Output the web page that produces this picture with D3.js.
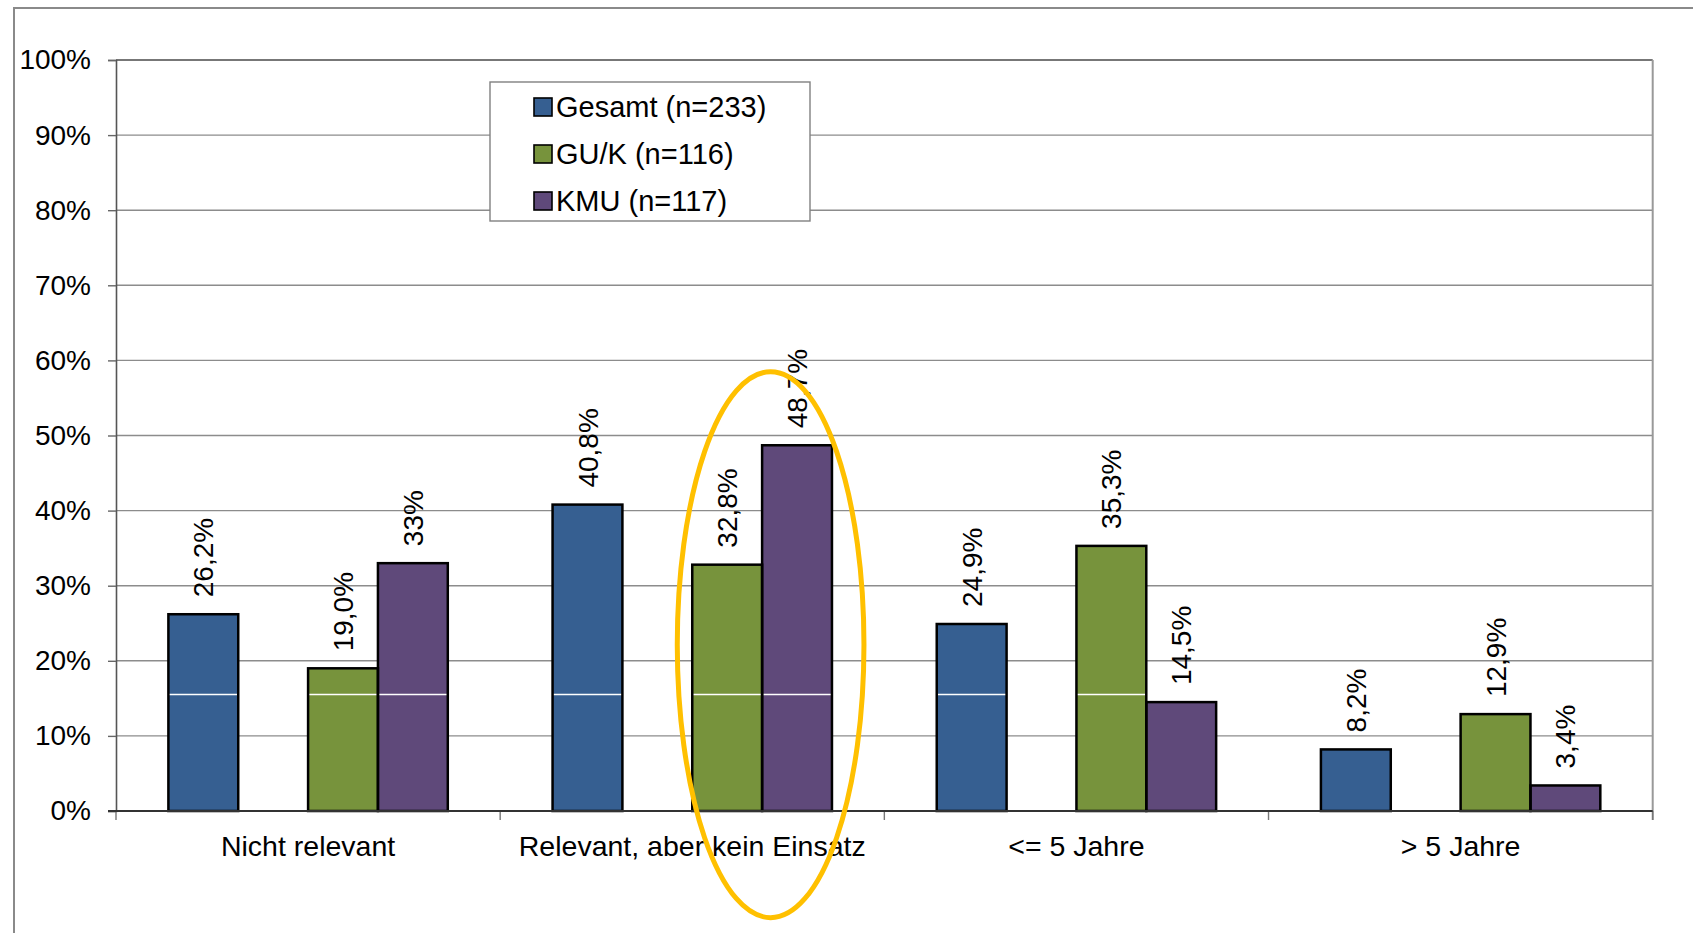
<!DOCTYPE html>
<html>
<head>
<meta charset="utf-8">
<script src="https://cdn.jsdelivr.net/npm/d3@7"></script>
<style>
  html, body { margin: 0; padding: 0; background: #fff; }
  svg { display: block; font-family: "Liberation Sans", Arial, sans-serif; }
</style>
</head>
<body>
<svg id="chart" width="1693" height="933"></svg>
<script>
// Categories on the x axis
const categories = ["Nicht relevant", "Relevant, aber kein Einsatz", "<= 5 Jahre", "> 5 Jahre"];

// Series names (legend) and colours
const seriesNames = ["Gesamt (n=233)", "GU/K (n=116)", "KMU (n=117)"];
const seriesColors = ["#365F91", "#77933C", "#5F497A"];

// Values in percent, one array per series
const gesamtValues = [26.2, 40.8, 24.9, 8.2];
const gukValues    = [19.0, 32.8, 35.3, 12.9];
const kmuValues    = [33, 48.7, 14.5, 3.4];

// Value labels as printed above the bars
const gesamtLabels = ["26,2%", "40,8%", "24,9%", "8,2%"];
const gukLabels    = ["19,0%", "32,8%", "35,3%", "12,9%"];
const kmuLabels    = ["33%", "48,7%", "14,5%", "3,4%"];

// Y axis ticks
const yTicks = [0, 10, 20, 30, 40, 50, 60, 70, 80, 90, 100];
const yTickLabels = ["0%", "10%", "20%", "30%", "40%", "50%", "60%", "70%", "80%", "90%", "100%"];

// Each group has four slots; the second slot stays empty
const slots = ["Gesamt", "leer", "GU/K", "KMU"];
const seriesSlots = ["Gesamt", "GU/K", "KMU"];

const seriesValues = [gesamtValues, gukValues, kmuValues];
const seriesLabels = [gesamtLabels, gukLabels, kmuLabels];

const svg = d3.select("#chart");
const plot = { left: 116, right: 1652.7, top: 60, bottom: 811 };

const x = d3.scaleBand().domain(categories).range([plot.left, plot.right]).padding(0);
const xs = d3.scaleBand().domain(slots).range([0, x.bandwidth()]).paddingInner(0).paddingOuter(0.75);
const y = d3.scaleLinear().domain([0, 100]).range([plot.bottom, plot.top]);

// Outer frame of the chart area
svg.append("path")
  .attr("d", `M14,933 V8 H1693`)
  .attr("fill", "none").attr("stroke", "#8a8a8a").attr("stroke-width", 2);

// Horizontal gridlines
svg.append("g").selectAll("line")
  .data(yTicks.filter(t => t > 0))
  .join("line")
  .attr("x1", plot.left).attr("x2", plot.right)
  .attr("y1", d => y(d)).attr("y2", d => y(d))
  .attr("stroke", d => d === 100 ? "#777" : "#8c8c8c")
  .attr("stroke-width", d => d === 100 ? 2 : 1.4);

// Flattened bar records
const bars = [];
seriesValues.forEach((vals, si) => {
  vals.forEach((v, ci) => {
    bars.push({ cat: categories[ci], slot: seriesSlots[si], value: v, label: seriesLabels[si][ci], color: seriesColors[si] });
  });
});

const barX = d => x(d.cat) + xs(d.slot);

// Bar fills
svg.append("g").selectAll("rect")
  .data(bars).join("rect")
  .attr("x", barX).attr("width", xs.bandwidth())
  .attr("y", d => y(d.value)).attr("height", d => y(0) - y(d.value))
  .attr("fill", d => d.color);

// Thin white line running through the bars
svg.append("line")
  .attr("x1", plot.left + 1).attr("x2", plot.right - 1)
  .attr("y1", y(15.5)).attr("y2", y(15.5))
  .attr("stroke", "#fff").attr("stroke-width", 1.5);

// Bar outlines
svg.append("g").selectAll("rect")
  .data(bars).join("rect")
  .attr("x", barX).attr("width", xs.bandwidth())
  .attr("y", d => y(d.value)).attr("height", d => y(0) - y(d.value))
  .attr("fill", "none").attr("stroke", "#000").attr("stroke-width", 2.5);

// Y axis
const yAxis = svg.append("g")
  .attr("transform", `translate(${plot.left},0)`)
  .call(d3.axisLeft(y).tickValues(yTicks).tickFormat((d, i) => yTickLabels[i]).tickSize(8).tickPadding(17));
yAxis.select(".domain").attr("stroke", "#555").attr("stroke-width", 1.6);
yAxis.selectAll(".tick line").attr("stroke", "#666").attr("stroke-width", 1.4);
yAxis.selectAll(".tick text").attr("font-size", 28).attr("fill", "#000")
  .attr("font-family", "'Liberation Sans', Arial, sans-serif");

// Plot area right border
svg.append("line")
  .attr("x1", plot.right).attr("x2", plot.right)
  .attr("y1", plot.top).attr("y2", plot.bottom + 9)
  .attr("stroke", "#999").attr("stroke-width", 2);

// X axis: baseline, boundary ticks and category labels
const boundaries = categories.map(c => x(c)).concat([plot.right]);
svg.append("g").selectAll("line")
  .data(boundaries).join("line")
  .attr("x1", d => d).attr("x2", d => d)
  .attr("y1", plot.bottom).attr("y2", plot.bottom + 9)
  .attr("stroke", "#777").attr("stroke-width", 1.4);
svg.append("line")
  .attr("x1", plot.left - 8).attr("x2", plot.right)
  .attr("y1", y(0)).attr("y2", y(0))
  .attr("stroke", "#333").attr("stroke-width", 2);
svg.append("g").selectAll("text")
  .data(categories).join("text")
  .attr("x", d => x(d) + x.bandwidth() / 2)
  .attr("y", 856)
  .attr("text-anchor", "middle")
  .attr("font-size", 28.5)
  .attr("fill", "#000")
  .text(d => d);

// Rotated value labels above each bar
svg.append("g").selectAll("text")
  .data(bars).join("text")
  .attr("transform", d => `translate(${barX(d) + xs.bandwidth() / 2},${y(d.value) - 17}) rotate(-90)`)
  .attr("dy", "0.36em")
  .attr("text-anchor", "start")
  .attr("font-size", 28)
  .attr("fill", "#000")
  .text(d => d.label);

// Legend
const legend = svg.append("g");
legend.append("rect")
  .attr("x", 490).attr("y", 82).attr("width", 320).attr("height", 139)
  .attr("fill", "#fff").attr("stroke", "#808080").attr("stroke-width", 1.4);
const items = legend.selectAll("g.item")
  .data(seriesNames).join("g")
  .attr("class", "item")
  .attr("transform", (d, i) => `translate(534,${107 + i * 47})`);
items.append("rect")
  .attr("x", 0).attr("y", -9).attr("width", 18).attr("height", 18)
  .attr("fill", (d, i) => seriesColors[i]).attr("stroke", "#000").attr("stroke-width", 1.6);
items.append("text")
  .attr("x", 22).attr("y", 0).attr("dy", "0.35em")
  .attr("font-size", 29)
  .attr("fill", "#000")
  .text(d => d);

// Highlight ellipse around GU/K and KMU in the second category
const hiCat = categories[1];
const hiLeft = x(hiCat) + xs("GU/K") - 15;
const hiRight = x(hiCat) + xs("KMU") + xs.bandwidth() + 32;
const hiTop = y(58.5), hiBottom = y(-14.2);
svg.append("ellipse")
  .attr("cx", (hiLeft + hiRight) / 2)
  .attr("cy", (hiTop + hiBottom) / 2)
  .attr("rx", (hiRight - hiLeft) / 2)
  .attr("ry", (hiBottom - hiTop) / 2)
  .attr("fill", "none").attr("stroke", "#FFC000").attr("stroke-width", 5);
</script>
</body>
</html>
